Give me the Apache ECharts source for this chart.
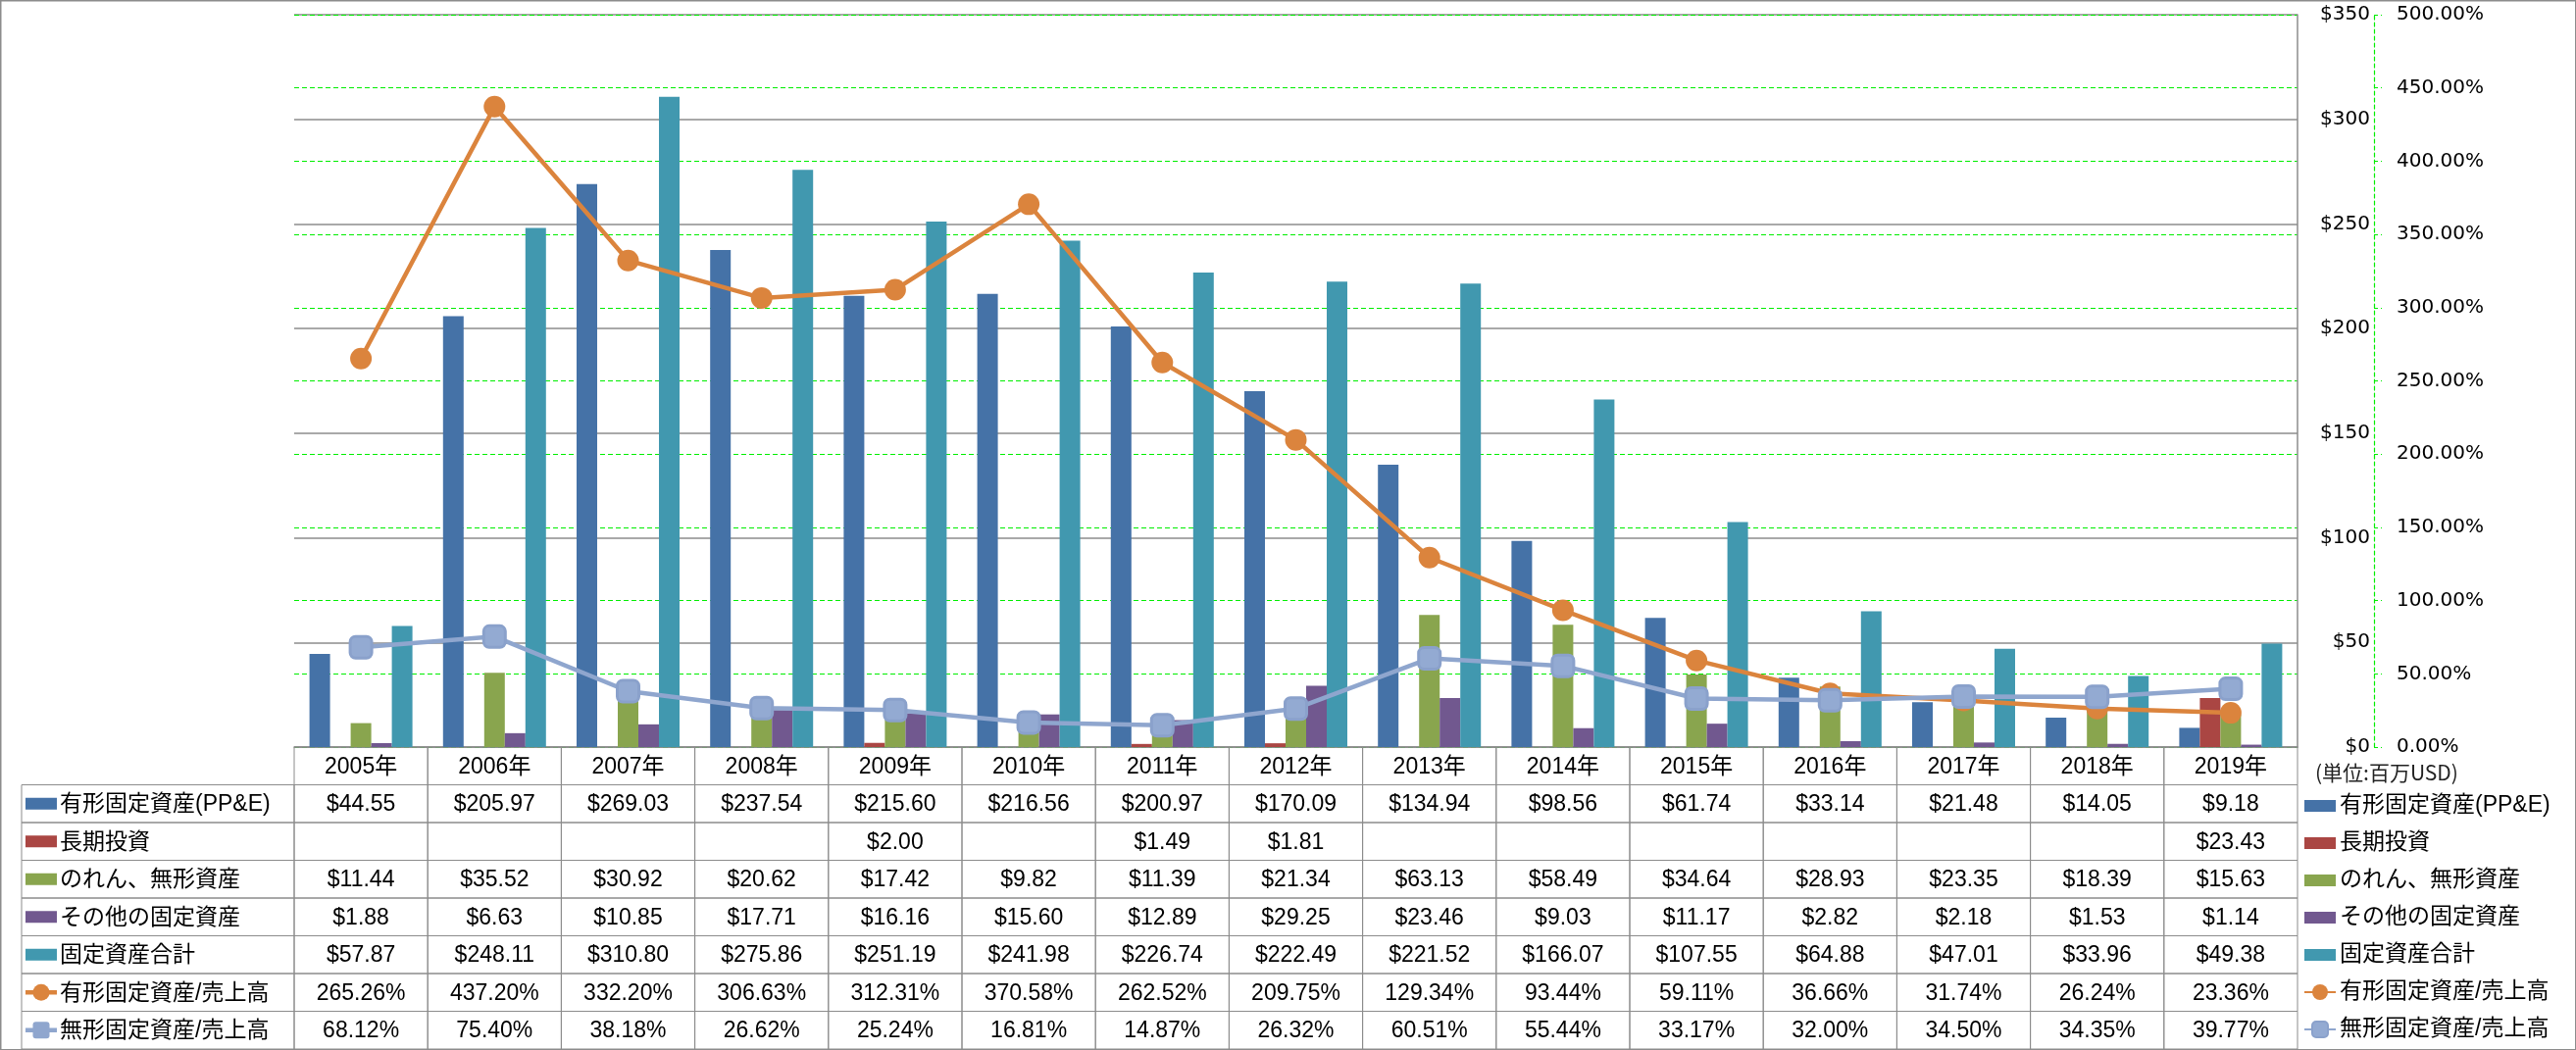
<!DOCTYPE html>
<html>
<head>
<meta charset="utf-8">
<script src="https://cdn.jsdelivr.net/npm/echarts@6/dist/echarts.min.js"></script>
<style>html,body{margin:0;padding:0;background:#fff}#c{width:2627px;height:1071px}</style>
</head>
<body>
<div id="c"></div>
<script>
const years = ['2005年','2006年','2007年','2008年','2009年','2010年','2011年','2012年','2013年','2014年','2015年','2016年','2017年','2018年','2019年'];
const ppe = [44.55,205.97,269.03,237.54,215.60,216.56,200.97,170.09,134.94,98.56,61.74,33.14,21.48,14.05,9.18];
const longInv = [null,null,null,null,2.00,null,1.49,1.81,null,null,null,null,null,null,23.43];
const goodwill = [11.44,35.52,30.92,20.62,17.42,9.82,11.39,21.34,63.13,58.49,34.64,28.93,23.35,18.39,15.63];
const otherFA = [1.88,6.63,10.85,17.71,16.16,15.60,12.89,29.25,23.46,9.03,11.17,2.82,2.18,1.53,1.14];
const totalFA = [57.87,248.11,310.80,275.86,251.19,241.98,226.74,222.49,221.52,166.07,107.55,64.88,47.01,33.96,49.38];
const ppeRatio = [265.26,437.20,332.20,306.63,312.31,370.58,262.52,209.75,129.34,93.44,59.11,36.66,31.74,26.24,23.36];
const intRatio = [68.12,75.40,38.18,26.62,25.24,16.81,14.87,26.32,60.51,55.44,33.17,32.00,34.50,34.35,39.77];
const names = ['有形固定資産(PP&E)','長期投資','のれん、無形資産','その他の固定資産','固定資産合計','有形固定資産/売上高','無形固定資産/売上高'];
const leftTicks = {min:0, max:350, interval:50};
const rightTicks = {min:0, max:500, interval:50};
const unitText = '(単位:百万USD)';

const colors = ['#4572A7','#AA4643','#89A54E','#71588F','#4198AF','#DB843D','#8FA6CE'];
const barSeries = [ppe, longInv, goodwill, otherFA, totalFA];
const lineSeries = [ppeRatio, intRatio];
const rowKinds = ['bar','bar','bar','bar','bar','circle','square'];

const fmtUsd = v => v == null ? '' : '$' + v.toFixed(2);
const fmtPct = v => v == null ? '' : v.toFixed(2) + '%';

// table cell data
const rowIdx = ['h'].concat(names);
const cellData = [], cellTexts = [];
years.forEach((y, i) => { cellData.push([i, 0]); cellTexts.push(y); });
barSeries.forEach((arr, s) => arr.forEach((v, i) => { cellData.push([i, s + 1]); cellTexts.push(fmtUsd(v)); }));
lineSeries.forEach((arr, s) => arr.forEach((v, i) => { cellData.push([i, s + 6]); cellTexts.push(fmtPct(v)); }));
const labelData = names.map((n, k) => [0, k + 1]);

const tableFont = '23px "Liberation Sans", "Noto Sans CJK JP", sans-serif';
const gridGray = '#8c8c8c';

function renderCell(params, api) {
  const c = api.coord([api.value(0), api.value(1)]);
  const s = api.size([1, 1]);
  return {
    type: 'group',
    children: [
      {type: 'rect', shape: {x: c[0] - s[0] / 2, y: c[1] - s[1] / 2, width: s[0], height: s[1]},
       style: {fill: 'transparent', stroke: gridGray, lineWidth: 1}},
      {type: 'text', style: {text: cellTexts[params.dataIndex], x: c[0], y: c[1] + 1, align: 'center', verticalAlign: 'middle', font: tableFont, fill: '#000'}}
    ]
  };
}
function renderLabel(params, api) {
  const k = params.dataIndex;
  const c = api.coord([api.value(0), api.value(1)]);
  const s = api.size([1, 1]);
  const x0 = c[0] - s[0] / 2;
  const children = [
    {type: 'rect', shape: {x: x0, y: c[1] - s[1] / 2, width: s[0], height: s[1]},
     style: {fill: 'transparent', stroke: gridGray, lineWidth: 1}}
  ];
  const col = colors[k];
  if (rowKinds[k] === 'bar') {
    children.push({type: 'rect', shape: {x: x0 + 4, y: c[1] - 6, width: 32, height: 12}, style: {fill: col}});
  } else {
    children.push({type: 'line', shape: {x1: x0 + 4, y1: c[1], x2: x0 + 36, y2: c[1]}, style: {stroke: col, lineWidth: 4.5}});
    if (rowKinds[k] === 'circle') {
      children.push({type: 'circle', shape: {cx: x0 + 20, cy: c[1], r: 8.5}, style: {fill: col}});
    } else {
      children.push({type: 'rect', shape: {x: x0 + 11.5, y: c[1] - 8.5, width: 17, height: 17, r: 3}, style: {fill: col}});
    }
  }
  children.push({type: 'text', style: {text: names[k], x: x0 + 39, y: c[1] + 1, align: 'left', verticalAlign: 'middle', font: tableFont, fill: '#000'}});
  return {type: 'group', children};
}

const axisFont = {fontFamily: 'DejaVu Sans', fontSize: 20, color: '#000'};
const green = '#00ee00';

const series = [];
barSeries.forEach((arr, s) => series.push({
  name: names[s], type: 'bar', xAxisIndex: 0, yAxisIndex: 0, data: arr,
  barWidth: 21, barGap: '0%', itemStyle: {color: colors[s]}
}));
lineSeries.forEach((arr, s) => series.push({
  name: names[5 + s], type: 'line', xAxisIndex: 0, yAxisIndex: 1, data: arr, z: 5,
  symbol: s === 0 ? 'circle' : 'roundRect', symbolSize: 22,
  lineStyle: {color: colors[5 + s], width: 4.5},
  itemStyle: s === 0 ? {color: colors[5]} : {color: '#93AAD2', borderColor: '#8AA1CB', borderWidth: 3}
}));
series.push({type: 'custom', xAxisIndex: 1, yAxisIndex: 3, data: cellData, renderItem: renderCell, silent: true});
series.push({type: 'custom', xAxisIndex: 2, yAxisIndex: 4, data: labelData, renderItem: renderLabel, silent: true});

const barIcon = 'path://M0 0H32V12H0Z';
const option = {
  animation: false,
  backgroundColor: '#fff',
  title: {text: unitText, left: 2361, top: 778, padding: 0,
          textStyle: {fontFamily: 'Noto Sans CJK JP', fontSize: 21, fontWeight: 'normal', color: '#222'}},
  legend: {
    orient: 'vertical', left: 2349, top: 810, padding: 0, itemGap: 14,
    itemWidth: 32, itemHeight: 20,
    textStyle: {fontFamily: '"Liberation Sans", "Noto Sans CJK JP"', fontSize: 23, lineHeight: 24, color: '#000', padding: [0, 0, 0, -1]},
    data: names.map((n, k) => k < 5 ? {name: n, icon: barIcon} : {name: n})
  },
  grid: [
    {left: 300, right: 284, top: 15, height: 747},
    {left: 300, right: 284, top: 762, height: 308},
    {left: 22, width: 278, top: 762, height: 308}
  ],
  xAxis: [
    {type: 'category', gridIndex: 0, data: years, boundaryGap: true,
     axisLine: {lineStyle: {color: gridGray, width: 1.5}}, axisTick: {show: false}, axisLabel: {show: false}},
    {type: 'category', gridIndex: 1, data: years, show: false},
    {type: 'category', gridIndex: 2, data: ['label'], show: false}
  ],
  yAxis: [
    {type: 'value', gridIndex: 0, position: 'right', offset: 78, ...leftTicks,
     axisLine: {show: false}, axisTick: {show: false},
     axisLabel: {inside: true, margin: 4, formatter: v => '$' + v, ...axisFont},
     splitLine: {lineStyle: {color: gridGray, width: 1.5}}},
    {type: 'value', gridIndex: 0, position: 'right', offset: 78, ...rightTicks,
     axisLine: {show: true, lineStyle: {color: green, type: [4, 3], width: 1.2}},
     axisTick: {show: true, length: 8, lineStyle: {color: green, type: [4, 3], width: 1.2}},
     axisLabel: {margin: 23, formatter: v => v.toFixed(2) + '%', ...axisFont},
     splitLine: {lineStyle: {color: green, type: [5, 3], width: 1.2}}},
    {type: 'value', gridIndex: 0, position: 'right', offset: 0, min: 0, max: 1,
     axisLine: {show: true, lineStyle: {color: gridGray, width: 1.5}}, axisTick: {show: false},
     axisLabel: {show: false}, splitLine: {show: false}},
    {type: 'category', gridIndex: 1, data: rowIdx, inverse: true, show: false},
    {type: 'category', gridIndex: 2, data: rowIdx, inverse: true, show: false}
  ],
  graphic: [
    {type: 'rect', left: 0, top: 0, z: 100, silent: true,
     shape: {width: 2626, height: 1070}, style: {fill: 'transparent', stroke: gridGray, lineWidth: 1.5}}
  ],
  series
};
const chart = echarts.init(document.getElementById('c'), null, {renderer: 'canvas'});
chart.setOption(option);
</script>
</body>
</html>
